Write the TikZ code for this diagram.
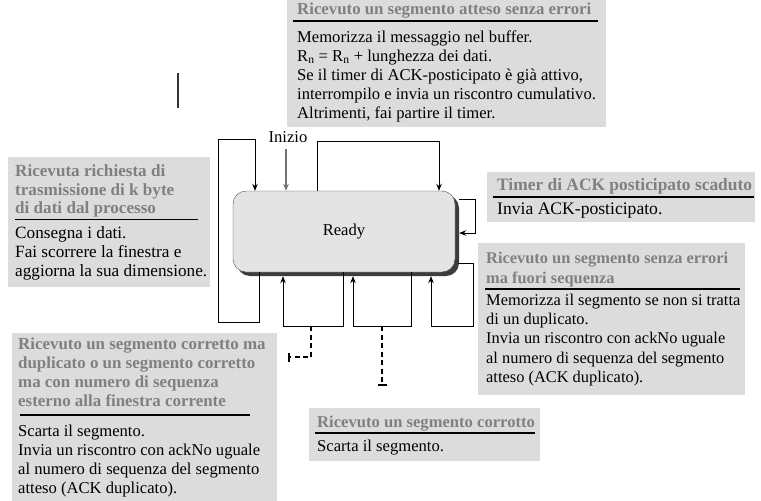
\documentclass[tikz,border=0pt]{standalone}
\usepackage{fontspec}
\setmainfont{Liberation Serif}
\usetikzlibrary{arrows.meta}
\definecolor{boxgray}{HTML}{DCDCDC}
\definecolor{readygray}{HTML}{E4E4E4}
\definecolor{headgray}{HTML}{808080}
\definecolor{shadowgray}{HTML}{3C3C3C}
\begin{document}
\begin{tikzpicture}[x=1pt,y=-1pt,
  panel/.style={fill=boxgray,draw=none,inner sep=0pt,anchor=north west},
  bodytxt/.style={font=\fontsize{#1}{19}\selectfont,anchor=base west,inner sep=0pt},
  bodytxt/.default=16.6,
  headtxt/.style={anchor=base west,inner sep=0pt,text=headgray,font=\fontsize{#1}{19}\selectfont\bfseries},
  headtxt/.default=16.8,
  sep/.style={line width=1.1pt},
  conn/.style={line width=0.8pt,-{Stealth[length=7pt,width=5.5pt]}},
  dashline/.style={line width=2pt,dash pattern=on 5pt off 3.5pt,-{Bar[width=9pt,line width=2pt]}},
  readybox/.style={draw=black!70,line width=0.4pt,fill=readygray,rounded corners=13pt,
    minimum width=222pt,minimum height=81pt,font=\fontsize{16.6}{19}\selectfont},
  readyshadow/.style={fill=shadowgray,rounded corners=13pt}
]
\useasboundingbox (0,0) rectangle (761,501);

% ---- top panel
\node[panel,minimum width=319pt,minimum height=127pt] (ptop) at (287,0) {};
\node[headtxt] (ptoph) at (297,14.5) {Ricevuto un segmento atteso senza errori};
\draw[sep] (293,21) -- (598,21);
\node[bodytxt] (ptop1) at (297,42) {Memorizza il messaggio nel buffer.};
\node[bodytxt] (ptop2) at (297,61) {R\textsubscript{n} = R\textsubscript{n} + lunghezza dei dati.};
\node[bodytxt] (ptop3) at (297,80) {Se il timer di ACK-posticipato è già attivo,};
\node[bodytxt] (ptop4) at (297,99) {interrompilo e invia un riscontro cumulativo.};
\node[bodytxt] (ptop5) at (297,118) {Altrimenti, fai partire il timer.};

% ---- stray vertical mark
\draw[line width=1.5pt,black!80] (178,73) -- (178,108);

% ---- left panel
\node[panel,minimum width=202pt,minimum height=130pt] (pleft) at (8,157) {};
\node[headtxt=17.1] (plefth1) at (15,176.5) {Ricevuta richiesta di};
\node[headtxt=17.1] (plefth2) at (15,195) {trasmissione di k byte};
\node[headtxt=17.1] (plefth3) at (15,213.5) {di dati dal processo};
\draw[sep] (15,219.5) -- (198,219.5);
\node[bodytxt=17.2] (pleft1) at (15,238.5) {Consegna i dati.};
\node[bodytxt=17.2] (pleft2) at (15,257.5) {Fai scorrere la finestra e};
\node[bodytxt=17.2] (pleft3) at (15,276.5) {aggiorna la sua dimensione.};

% ---- timer panel
\node[panel,minimum width=268pt,minimum height=50pt] (ptimer) at (487,172) {};
\node[headtxt=17.4] (ptimerh) at (497,190.5) {Timer di ACK posticipato scaduto};
\draw[sep] (493,197) -- (754,197);
\node[bodytxt=17.6] (ptimer1) at (497,214.5) {Invia ACK-posticipato.};

% ---- out-of-order panel
\node[panel,minimum width=267pt,minimum height=152pt] (pooo) at (478,243) {};
\node[headtxt=16.4] (poooh1) at (486,263.5) {Ricevuto un segmento senza errori};
\node[headtxt=16.4] (poooh2) at (486,283) {ma fuori sequenza};
\draw[sep] (485,289) -- (740,289);
\node[bodytxt=16.4] (pooo1) at (486,305) {Memorizza il segmento se non si tratta};
\node[bodytxt=16.4] (pooo2) at (486,324.5) {di un duplicato.};
\node[bodytxt=16.4] (pooo3) at (486,343.5) {Invia un riscontro con ackNo uguale};
\node[bodytxt=16.4] (pooo4) at (486,363) {al numero di sequenza del segmento};
\node[bodytxt=16.4] (pooo5) at (486,382.5) {atteso (ACK duplicato).};

% ---- duplicate panel
\node[panel,minimum width=265pt,minimum height=168pt] (pdup) at (12,333) {};
\node[headtxt=16.9] (pduph1) at (18,349.5) {Ricevuto un segmento corretto ma};
\node[headtxt=16.9] (pduph2) at (18,368.5) {duplicato o un segmento corretto};
\node[headtxt=16.9] (pduph3) at (18,387.5) {ma con numero di sequenza};
\node[headtxt=16.9] (pduph4) at (18,406.5) {esterno alla finestra corrente};
\draw[sep] (20,415) -- (250,415);
\node[bodytxt] (pdup1) at (18,436) {Scarta il segmento.};
\node[bodytxt] (pdup2) at (18,455) {Invia un riscontro con ackNo uguale};
\node[bodytxt] (pdup3) at (18,474) {al numero di sequenza del segmento};
\node[bodytxt] (pdup4) at (18,493) {atteso (ACK duplicato).};

% ---- corrupted panel
\node[panel,minimum width=231pt,minimum height=53pt] (pcor) at (309,408) {};
\node[headtxt=16.6] (pcorh) at (317,427) {Ricevuto un segmento corrotto};
\draw[sep] (315,433) -- (535,433);
\node[bodytxt] (pcor1) at (317,451.5) {Scarta il segmento.};

% ---- Ready state
\fill[readyshadow] (237,195) rectangle (459,276);
\node[readybox] (ready) at (344,231.5) {Ready};

% ---- Inizio
\node[bodytxt,anchor=base] (inizio) at (288,142) {Inizio};
\coordinate (izs) at (286,149);
\draw[conn,draw=black!55,fill=black!55,line width=1.1pt] (izs) -- (izs |- ready.north);

% ---- loops
\draw[conn] (259,0 |- ready.south) -- (259,322) -- (218,322) -- (218,139) -- (255,139) -- (255,0 |- ready.north);
\draw[conn] (317,0 |- ready.north) -- (317,141) -- (439,141) -- (439,0 |- ready.north);
\draw[conn] ([xshift=4pt]ready.east |- 0,199) -- (475,199) -- (475,233) -- ([xshift=4pt]ready.east |- 0,233);
\coordinate (dA) at (311,326);
\coordinate (dB) at (382,326);
\draw[conn] (343,0 |- ready.south) -- (343,326) -- (283,326) -- ([yshift=-4pt]283,0 |- ready.south);
\draw[conn] (411,0 |- ready.south) -- (411,326) -- (353,326) -- ([yshift=-4pt]353,0 |- ready.south);
\draw[conn] (458,263) -- (473,263) -- (473,326) -- (431,326) -- ([yshift=-4pt]431,0 |- ready.south);

% ---- dashed leads
\coordinate (eA) at (288,357);
\coordinate (eB) at (382,386);
\draw[dashline] (dA) -- (311,357) -- (eA);
\draw[dashline] (dB) -- (eB);
\end{tikzpicture}
\end{document}
